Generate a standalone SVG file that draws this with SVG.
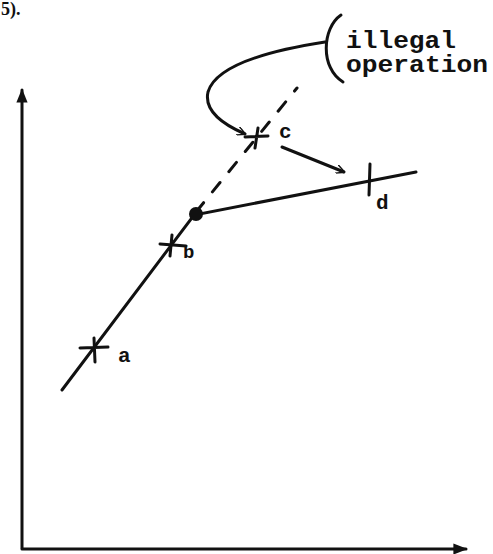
<svg xmlns="http://www.w3.org/2000/svg" width="493" height="554" viewBox="0 0 493 554">
<style>
.ln{stroke:#111;stroke-width:3;fill:none;stroke-linecap:round}
.lb{font-family:"Liberation Mono","DejaVu Sans Mono",monospace;font-weight:bold;fill:#111}
</style>
<defs>
<marker id="ah" viewBox="0 0 10 10" refX="9" refY="5" markerWidth="9" markerHeight="9" orient="auto" markerUnits="userSpaceOnUse">
<path d="M0,0 L10,5 L0,10" fill="none" stroke="#111" stroke-width="1.6"/>
</marker>
<marker id="ax" viewBox="0 0 10 10" refX="9" refY="5" markerWidth="14" markerHeight="14" orient="auto" markerUnits="userSpaceOnUse">
<path d="M0,1 L10,5 L0,9 Z" fill="#111"/>
</marker>
</defs>
<rect width="493" height="554" fill="#fff"/>
<text x="1" y="15" font-size="18" font-family="Liberation Serif,serif" font-weight="bold" fill="#111">5).</text>
<g id="axes">
<line class="ln" x1="22" y1="548" x2="22" y2="90" marker-end="url(#ax)"/>
<line class="ln" x1="22" y1="549" x2="466" y2="549" marker-end="url(#ax)"/>
</g>
<g id="connectors">
<polyline class="ln" points="62,390 194,215 416,172"/>
<line class="ln" x1="196" y1="212" x2="297" y2="88" stroke-dasharray="12,14"/>
<path class="ln" d="M282,147 L344,172" marker-end="url(#ah)" stroke-width="2.5"/>
<path class="ln" d="M325,42 C260,52 215,68 208,92 C204,110 222,124 245,134" marker-end="url(#ah)" stroke-width="2.5"/>
</g>
<g id="node-a">
<path class="ln" d="M80,348 L108,347 M94,338 L95,362"/>
<text class="lb" x="118" y="362" font-size="21">a</text>
</g>
<g id="node-b">
<path class="ln" d="M160,244 L186,246 M172,235 L170,256"/>
<text class="lb" x="183" y="258" font-size="19">b</text>
</g>
<g id="node-dot">
<circle cx="196" cy="214" r="7" fill="#111"/>
</g>
<g id="node-c">
<path class="ln" d="M245,137 L268,136 M258,128 L255,148"/>
<text class="lb" x="279" y="138" font-size="21">c</text>
</g>
<g id="node-d">
<path class="ln" d="M370,164 L369,195"/>
<text class="lb" x="376" y="209" font-size="21">d</text>
</g>
<g id="note">
<path class="ln" d="M341,15 C322,28 320,68 343,82" stroke-width="2"/>
<text class="lb" x="346" y="48" font-size="23" textLength="110" lengthAdjust="spacingAndGlyphs">illegal</text>
<text class="lb" x="346" y="72" font-size="23" textLength="142" lengthAdjust="spacingAndGlyphs">operation</text>
</g>
</svg>
